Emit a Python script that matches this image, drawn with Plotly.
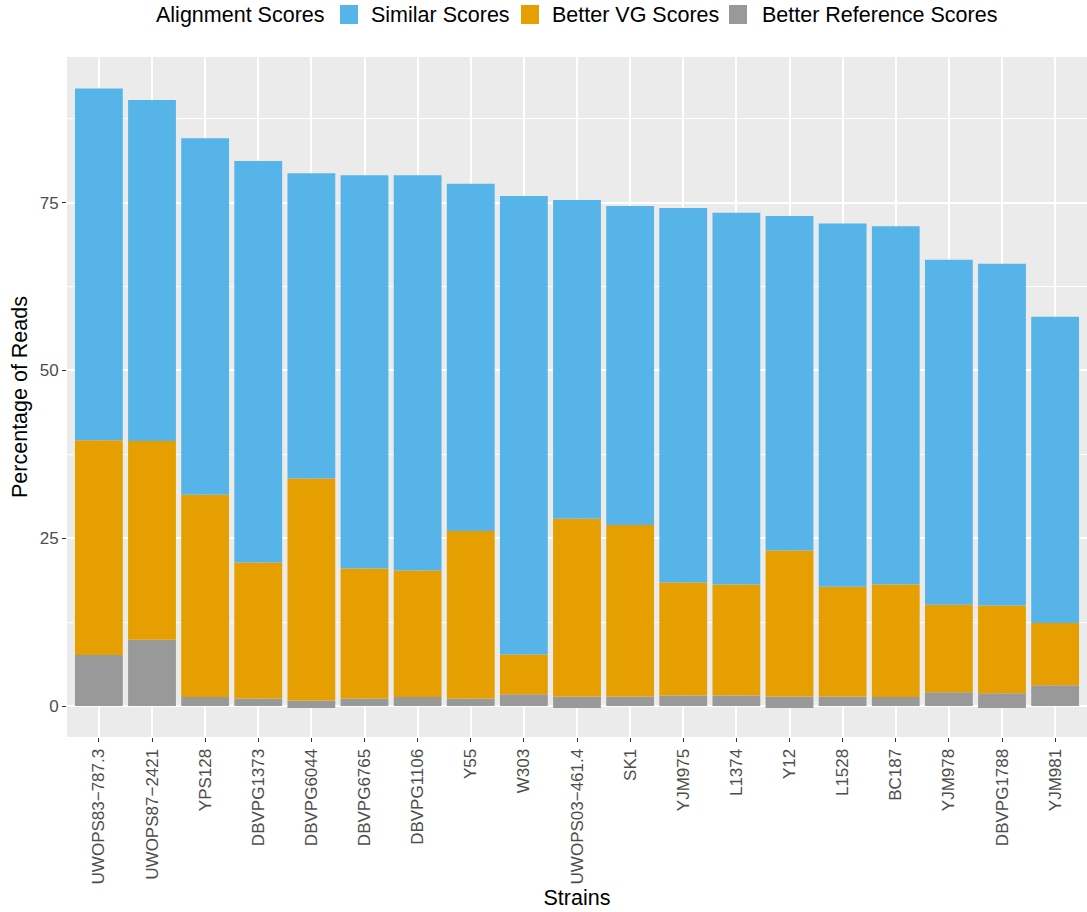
import plotly.graph_objects as go

strains = ["UWOPS83−787.3", "UWOPS87−2421", "YPS128", "DBVPG1373", "DBVPG6044",
           "DBVPG6765", "DBVPG1106", "Y55", "W303", "UWOPS03−461.4", "SK1",
           "YJM975", "L1374", "Y12", "L1528", "BC187", "YJM978", "DBVPG1788", "YJM981"]

better_reference = [7.6, 9.9, 1.35, 1.15, 0.85, 1.15, 1.35, 1.15, 1.75, 1.45, 1.45,
                    1.6, 1.6, 1.45, 1.45, 1.35, 2.05, 1.9, 3.1]
better_reference_neg = [0, 0, 0, 0, -0.2, 0, 0, 0, 0, -0.2, 0,
                        0, 0, -0.2, 0, 0, 0, -0.2, 0]
better_vg = [32.0, 29.6, 30.15, 20.25, 33.05, 19.35, 18.85, 24.95, 5.95, 26.45, 25.55,
             16.8, 16.5, 21.75, 16.35, 16.75, 13.05, 13.1, 9.3]
similar = [52.4, 50.8, 53.1, 59.8, 45.5, 58.6, 58.9, 51.7, 68.3, 47.5, 47.5,
           55.8, 55.4, 49.8, 54.1, 53.4, 51.4, 50.9, 45.6]

y_ticks = [0, 25, 50, 75]

legend_title = "Alignment Scores"
legend_labels = ["Similar Scores", "Better VG Scores", "Better Reference Scores"]

BLUE = "#56B4E9"
ORANGE = "#E69F00"
GREY = "#999999"
legend_colors = [BLUE, ORANGE, GREY]
FONT = "Liberation Sans, Arial, sans-serif"

W, H = 1087, 912
ML, MR, MT, MB = 67, 0, 57, 175
PW = W - ML - MR
PH = H - MT - MB


def px_x(p):
    return (p - ML) / PW


def px_y(p):
    return (H - MB - p) / PH


fig = go.Figure()
fig.add_trace(go.Bar(x=strains, y=better_reference, name="Better Reference Scores",
                     marker=dict(color=GREY, line=dict(width=0))))
fig.add_trace(go.Bar(x=strains, y=better_vg, name="Better VG Scores",
                     marker=dict(color=ORANGE, line=dict(width=0))))
fig.add_trace(go.Bar(x=strains, y=similar, name="Similar Scores",
                     marker=dict(color=BLUE, line=dict(width=0))))
fig.add_trace(go.Bar(x=strains, y=better_reference_neg, name="Better Reference Scores",
                     marker=dict(color=GREY, line=dict(width=0))))

# manual ggplot-style legend (top, horizontal)
icon_left = [340, 521, 729]
text_left = [369, 550, 760]
shapes = []
annotations = [dict(text=legend_title, xref="paper", yref="paper",
                    x=px_x(327), y=px_y(15), xanchor="right", yanchor="middle",
                    showarrow=False, font=dict(size=21.5, color="black", family=FONT))]
for lab, col, il, tl in zip(legend_labels, legend_colors, icon_left, text_left):
    shapes.append(dict(type="rect", xref="paper", yref="paper",
                       x0=px_x(il), x1=px_x(il + 18), y0=px_y(24), y1=px_y(5),
                       fillcolor=col, line=dict(width=0)))
    annotations.append(dict(text=lab, xref="paper", yref="paper",
                            x=px_x(tl), y=px_y(15), xanchor="left", yanchor="middle",
                            showarrow=False, font=dict(size=21.5, color="black", family=FONT)))

fig.update_layout(
    width=W, height=H,
    margin=dict(l=ML, r=MR, t=MT, b=MB),
    barmode="relative", bargap=0.1,
    paper_bgcolor="white", plot_bgcolor="#EBEBEB",
    font=dict(family=FONT, color="black"),
    showlegend=False,
    shapes=shapes,
    annotations=annotations,
    xaxis=dict(
        type="category", range=[-0.6, 18.6],
        tickangle=-90, tickfont=dict(size=17, color="#4D4D4D", family=FONT),
        ticks="outside", ticklen=4, tickcolor="#333333", tickwidth=1.1,
        showgrid=True, gridcolor="white", gridwidth=1.5,
        showline=False, zeroline=False,
        title=dict(text="Strains", font=dict(size=21.5, color="black"), standoff=6),
    ),
    yaxis=dict(
        range=[-4.6, 96.7], tickvals=y_ticks,
        tickfont=dict(size=17, color="#4D4D4D", family=FONT),
        ticks="outside", ticklen=4, tickcolor="#333333", tickwidth=1.1,
        showgrid=True, gridcolor="white", gridwidth=1.5,
        minor=dict(tick0=12.5, dtick=25, showgrid=True, gridcolor="white", gridwidth=0.7, ticks=""),
        showline=False, zeroline=False,
        title=dict(text="Percentage of Reads", font=dict(size=21.5, color="black"), standoff=6),
    ),
)

fig.write_html("out.html")
